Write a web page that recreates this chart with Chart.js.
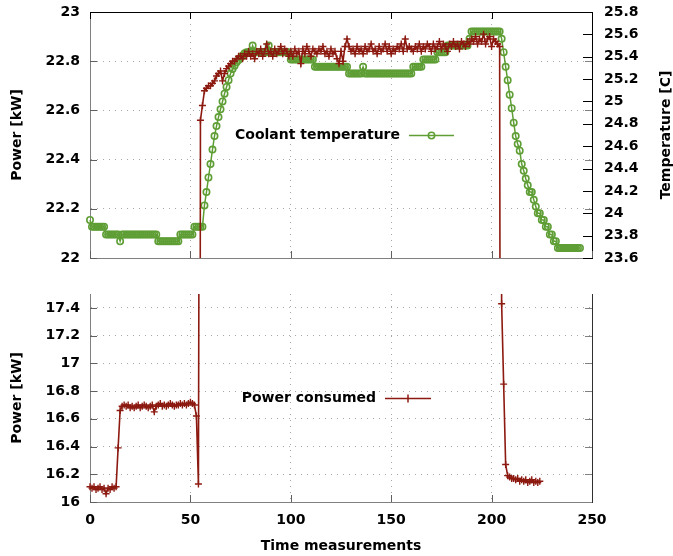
<!DOCTYPE html>
<html><head><meta charset="utf-8">
<script src="https://cdn.jsdelivr.net/npm/chart.js@4/dist/chart.umd.min.js"></script>
<style>
html,body{margin:0;padding:0;background:#fff;}
#wrap{position:relative;width:673px;height:556px;overflow:hidden;background:#fff;}
canvas{position:absolute;left:0;}
#cTop{top:0;}
#cBot{top:276px;}
</style></head><body>
<div id="wrap"><canvas id="cTop" width="673" height="276"></canvas><canvas id="cBot" width="673" height="280"></canvas></div>
<script>
// ---- tick values and labels ----
const timeTicks = [0, 50, 100, 150, 200, 250];
const timeTickLabels = ['0', '50', '100', '150', '200', '250'];
const topPowerTicks = [22, 22.2, 22.4, 22.6, 22.8, 23];
const topPowerLabels = ['22', '22.2', '22.4', '22.6', '22.8', '23'];
const tempTicks = [23.6, 23.8, 24, 24.2, 24.4, 24.6, 24.8, 25, 25.2, 25.4, 25.6, 25.8];
const tempLabels = ['23.6', '23.8', '24', '24.2', '24.4', '24.6', '24.8', '25', '25.2', '25.4', '25.6', '25.8'];
const bottomPowerTicks = [16, 16.2, 16.4, 16.6, 16.8, 17, 17.2, 17.4];
const bottomPowerLabels = ['16', '16.2', '16.4', '16.6', '16.8', '17', '17.2', '17.4'];

// ---- series (one value per time measurement, starting at 0) ----
const powerConsumed = [
  16.11, 16.10, 16.11, 16.09, 16.10, 16.11, 16.09, 16.10, 16.06, 16.10,
  16.09, 16.11, 16.10, 16.11, 16.39, 16.66, 16.69, 16.70, 16.69, 16.70,
  16.68, 16.69, 16.68, 16.69, 16.70, 16.68, 16.69, 16.70, 16.69, 16.68,
  16.69, 16.70, 16.65, 16.69, 16.70, 16.71, 16.69, 16.70, 16.69, 16.70,
  16.71, 16.70, 16.69, 16.70, 16.70, 16.71, 16.70, 16.71, 16.70, 16.71,
  16.72, 16.71, 16.70, 16.62, 16.13, 22.56, 22.62, 22.68, 22.69, 22.70,
  22.70, 22.71, 22.72, 22.74, 22.75, 22.76, 22.72, 22.75, 22.77, 22.78,
  22.79, 22.80, 22.80, 22.81, 22.82, 22.82, 22.81, 22.83, 22.82, 22.84,
  22.82, 22.83, 22.81, 22.84, 22.83, 22.85, 22.82, 22.84, 22.87, 22.83,
  22.84, 22.82, 22.85, 22.83, 22.84, 22.86, 22.83, 22.85, 22.84, 22.82,
  22.84, 22.82, 22.85, 22.83, 22.84, 22.79, 22.85, 22.83, 22.86, 22.84,
  22.82, 22.85, 22.84, 22.83, 22.85, 22.84, 22.86, 22.83, 22.84, 22.82,
  22.85, 22.83, 22.84, 22.81, 22.79, 22.84, 22.80, 22.86, 22.89, 22.86,
  22.84, 22.85, 22.83, 22.86, 22.84, 22.85, 22.83, 22.86, 22.84, 22.85,
  22.87, 22.84, 22.85, 22.83, 22.86, 22.84, 22.85, 22.87, 22.84, 22.86,
  22.83, 22.85, 22.84, 22.86, 22.85, 22.87, 22.84, 22.89, 22.85, 22.86,
  22.85, 22.84, 22.86, 22.85, 22.87, 22.84, 22.86, 22.85, 22.87, 22.86,
  22.84, 22.87, 22.85, 22.86, 22.88, 22.85, 22.87, 22.86, 22.84, 22.87,
  22.86, 22.88, 22.86, 22.87, 22.85, 22.88, 22.87, 22.86, 22.88, 22.87,
  22.89, 22.88, 22.90, 22.87, 22.89, 22.88, 22.91, 22.87, 22.89, 22.90,
  22.86, 22.89, 22.88, 22.87, 22.86, 17.43, 16.85, 16.27, 16.19, 16.18,
  16.17, 16.17, 16.16, 16.17, 16.15, 16.16, 16.15, 16.16, 16.14, 16.15,
  16.16, 16.14, 16.15, 16.14, 16.15
];

const coolantTemperature = [
  23.94, 23.88, 23.88, 23.88, 23.88, 23.88, 23.88, 23.88, 23.81, 23.81,
  23.81, 23.81, 23.81, 23.81, 23.81, 23.75, 23.81, 23.81, 23.81, 23.81,
  23.81, 23.81, 23.81, 23.81, 23.81, 23.81, 23.81, 23.81, 23.81, 23.81,
  23.81, 23.81, 23.81, 23.81, 23.75, 23.75, 23.75, 23.75, 23.75, 23.75,
  23.75, 23.75, 23.75, 23.75, 23.75, 23.81, 23.81, 23.81, 23.81, 23.81,
  23.81, 23.81, 23.88, 23.88, 23.88, 23.88, 23.88, 24.07, 24.19, 24.32,
  24.44, 24.57, 24.69, 24.78, 24.86, 24.93, 25.00, 25.07, 25.13, 25.19,
  25.25, 25.29, 25.32, 25.35, 25.37, 25.39, 25.41, 25.43, 25.44, 25.44,
  25.44, 25.50, 25.44, 25.44, 25.44, 25.44, 25.44, 25.44, 25.44, 25.50,
  25.44, 25.44, 25.44, 25.44, 25.44, 25.44, 25.44, 25.44, 25.44, 25.44,
  25.375, 25.375, 25.375, 25.375, 25.375, 25.375, 25.375, 25.375, 25.375, 25.375,
  25.375, 25.375, 25.31, 25.31, 25.31, 25.31, 25.31, 25.31, 25.31, 25.31,
  25.31, 25.31, 25.31, 25.31, 25.31, 25.31, 25.31, 25.31, 25.31, 25.25,
  25.25, 25.25, 25.25, 25.25, 25.25, 25.25, 25.31, 25.25, 25.25, 25.25,
  25.25, 25.25, 25.25, 25.25, 25.25, 25.25, 25.25, 25.25, 25.25, 25.25,
  25.25, 25.25, 25.25, 25.25, 25.25, 25.25, 25.25, 25.25, 25.25, 25.25,
  25.25, 25.31, 25.31, 25.31, 25.31, 25.31, 25.375, 25.375, 25.375, 25.375,
  25.375, 25.375, 25.375, 25.44, 25.44, 25.44, 25.44, 25.44, 25.50, 25.50,
  25.50, 25.50, 25.50, 25.50, 25.50, 25.50, 25.50, 25.50, 25.50, 25.56,
  25.625, 25.625, 25.625, 25.625, 25.625, 25.625, 25.625, 25.625, 25.625, 25.625,
  25.625, 25.625, 25.625, 25.625, 25.625, 25.56, 25.44, 25.31, 25.19, 25.06,
  24.94, 24.81, 24.69, 24.62, 24.56, 24.44, 24.38, 24.31, 24.25, 24.19,
  24.19, 24.12, 24.06, 24.00, 24.00, 23.94, 23.94, 23.88, 23.88, 23.81,
  23.81, 23.75, 23.75, 23.69, 23.69, 23.69, 23.69, 23.69, 23.69, 23.69,
  23.69, 23.69, 23.69, 23.69, 23.69
];

const RED = '#8c1a10';
const GREEN = '#5e9e35';
const FONT = {family: "'DejaVu Sans', sans-serif", size: 14, weight: 'bold'};
Chart.defaults.font = Object.assign({}, FONT);
Chart.defaults.color = '#000';

const powerPoints = powerConsumed.map((v, i) => ({x: i, y: v}));
const tempPoints = coolantTemperature.map((v, i) => ({x: i, y: v}));

function setTicks(values) { return s => { s.ticks = values.map(v => ({value: v})); }; }
function fixWidth(w) { return s => { s.width = w; s.paddingTop = 0; s.paddingBottom = 0; }; }
const GRID = {color: '#a8a8a8', lineWidth: 1, drawTicks: false};
const AXIS = {display: true, color: '#808080', width: 1, dash: [1, 5]};

function inwardTicks(ctx, scale, side, len, color, a) {
  ctx.save();
  ctx.strokeStyle = color; ctx.lineWidth = 1;
  ctx.beginPath();
  scale.ticks.forEach(t => {
    const p = Math.round(scale.getPixelForValue(t.value)) + 0.5;
    if (side === 'left') { ctx.moveTo(a.left, p); ctx.lineTo(a.left + len, p); }
    else if (side === 'right') { ctx.moveTo(a.right, p); ctx.lineTo(a.right - len, p); }
    else if (side === 'bottom') { ctx.moveTo(p, a.bottom); ctx.lineTo(p, a.bottom - len); }
    else if (side === 'top') { ctx.moveTo(p, a.top); ctx.lineTo(p, a.top + len); }
  });
  ctx.stroke();
  ctx.restore();
}

function legendEntry(ctx, a, text, textRight, lineStart, lineEnd, color, marker) {
  const y = a.top + a.height / 2;
  ctx.save();
  ctx.font = 'bold 14px "DejaVu Sans", sans-serif';
  ctx.fillStyle = '#000';
  ctx.textAlign = 'right';
  ctx.textBaseline = 'middle';
  ctx.fillText(text, a.left + textRight, y);
  ctx.strokeStyle = color;
  ctx.lineWidth = 1.5;
  ctx.beginPath();
  ctx.moveTo(a.left + lineStart, y + 0.5);
  ctx.lineTo(a.left + lineEnd, y + 0.5);
  ctx.stroke();
  const mx = a.left + (lineStart + lineEnd) / 2;
  ctx.beginPath();
  if (marker === 'circle') {
    ctx.lineWidth = 1.5;
    ctx.arc(mx, y + 0.5, 3.2, 0, Math.PI * 2);
  } else {
    ctx.moveTo(mx, y - 3.5); ctx.lineTo(mx, y + 4.5);
  }
  ctx.stroke();
  ctx.restore();
}

const topFrame = {
  id: 'topFrame',
  afterDraw(chart) {
    const {ctx, chartArea: a, scales} = chart;
    inwardTicks(ctx, scales.y, 'left', 7, '#606060', a);
    inwardTicks(ctx, scales.y, 'right', 7, '#808080', a);
    inwardTicks(ctx, scales.y2, 'right', 9, '#000', a);
    inwardTicks(ctx, scales.x, 'bottom', 7, '#606060', a);
    inwardTicks(ctx, scales.x, 'top', 7, '#000', a);
    ctx.save();
    ctx.strokeStyle = '#000'; ctx.lineWidth = 1;
    ctx.beginPath();
    ctx.moveTo(a.left, a.top + 0.5); ctx.lineTo(a.right + 1, a.top + 0.5);
    ctx.stroke();
    // right axis title, reading bottom to top
    ctx.translate(a.right + 74, a.top + a.height / 2);
    ctx.rotate(-Math.PI / 2);
    ctx.font = 'bold 14px "DejaVu Sans", sans-serif';
    ctx.fillStyle = '#000';
    ctx.textAlign = 'center'; ctx.textBaseline = 'middle';
    ctx.fillText('Temperature [C]', 0, 0);
    ctx.restore();
    legendEntry(ctx, a, 'Coolant temperature', 310, 319, 364, GREEN, 'circle');
  }
};

const bottomFrame = {
  id: 'bottomFrame',
  afterDraw(chart) {
    const {ctx, chartArea: a, scales} = chart;
    inwardTicks(ctx, scales.y, 'left', 7, '#606060', a);
    inwardTicks(ctx, scales.y, 'right', 7, '#808080', a);
    inwardTicks(ctx, scales.x, 'bottom', 7, '#606060', a);
    ctx.save();
    ctx.strokeStyle = '#303030'; ctx.lineWidth = 1;
    ctx.beginPath();
    ctx.moveTo(Math.round(a.right) + 0.5, a.top); ctx.lineTo(Math.round(a.right) + 0.5, a.bottom + 1);
    ctx.stroke();
    ctx.restore();
    legendEntry(ctx, a, 'Power consumed', 286, 295, 341, RED, 'plus');
  }
};

const powerStyle = {
  borderColor: RED, backgroundColor: RED, borderWidth: 1.6,
  pointStyle: 'cross', pointRadius: 3.5, pointBorderWidth: 1.4,
  pointBorderColor: RED, tension: 0,
  clip: {left: 6, right: 0, top: 0, bottom: 0}
};

new Chart(document.getElementById('cTop'), {
  type: 'line',
  data: {
    datasets: [
      Object.assign({label: 'Power consumed', data: powerPoints, xAxisID: 'x', yAxisID: 'y'}, powerStyle),
      {
        label: 'Coolant temperature', data: tempPoints, xAxisID: 'x', yAxisID: 'y2',
        borderColor: GREEN, borderWidth: 1.5, pointStyle: 'circle', pointRadius: 3.2,
        pointBorderWidth: 1.6, pointBorderColor: GREEN, pointBackgroundColor: 'rgba(255,255,255,0)',
        tension: 0, clip: {left: 6, right: 6, top: 0, bottom: 0}
      }
    ]
  },
  options: {
    responsive: false, animation: false, events: [],
    layout: {padding: {top: 12, left: 0, right: 0, bottom: 0}},
    plugins: {legend: {display: false}, tooltip: {enabled: false}},
    scales: {
      x: {
        type: 'linear', position: 'bottom', min: 0, max: 250,
        afterBuildTicks: setTicks(timeTicks),
        ticks: {display: false},
        grid: GRID, border: AXIS,
        afterFit: s => { s.height = 18; }
      },
      y: {
        type: 'linear', position: 'left', min: 22, max: 23,
        afterBuildTicks: setTicks(topPowerTicks),
        ticks: {padding: 10, callback: (v, i) => topPowerLabels[i], color: '#000'},
        grid: GRID, border: AXIS,
        title: {display: true, text: 'Power [kW]', color: '#000', padding: {top: 9, bottom: 0}},
        afterFit: fixWidth(90)
      },
      y2: {
        type: 'linear', position: 'right', min: 23.6, max: 25.8,
        afterBuildTicks: setTicks(tempTicks),
        ticks: {padding: 12, callback: (v, i) => tempLabels[i], color: '#000'},
        grid: {display: false, drawTicks: false},
        border: {display: true, color: '#000', width: 1},
        afterFit: fixWidth(81)
      }
    }
  },
  plugins: [topFrame]
});

new Chart(document.getElementById('cBot'), {
  type: 'line',
  data: {
    datasets: [
      Object.assign({label: 'Power consumed', data: powerPoints, xAxisID: 'x', yAxisID: 'y'}, powerStyle)
    ]
  },
  options: {
    responsive: false, animation: false, events: [],
    layout: {padding: {top: 18, left: 0, right: 81, bottom: 0}},
    plugins: {legend: {display: false}, tooltip: {enabled: false}},
    scales: {
      x: {
        type: 'linear', position: 'bottom', min: 0, max: 250,
        afterBuildTicks: setTicks(timeTicks),
        ticks: {padding: 10, callback: (v, i) => timeTickLabels[i], color: '#000', maxRotation: 0},
        grid: GRID, border: AXIS,
        title: {display: true, text: 'Time measurements', color: '#000', padding: {top: 0, bottom: 1}},
        afterFit: s => { s.height = 54; }
      },
      y: {
        type: 'linear', position: 'left', min: 16, max: 17.5,
        afterBuildTicks: setTicks(bottomPowerTicks),
        ticks: {padding: 10, callback: (v, i) => bottomPowerLabels[i], color: '#000'},
        grid: GRID, border: AXIS,
        title: {display: true, text: 'Power [kW]', color: '#000', padding: {top: 9, bottom: 0}},
        afterFit: fixWidth(90)
      }
    }
  },
  plugins: [bottomFrame]
});
</script>
</body></html>
